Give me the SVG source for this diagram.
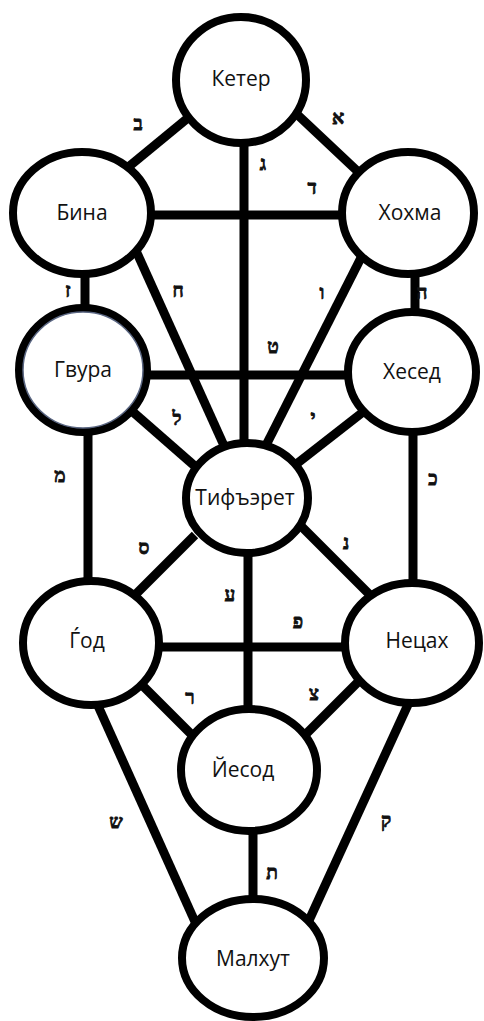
<svg xmlns="http://www.w3.org/2000/svg" width="484" height="1021" viewBox="0 0 484 1021">
<style>
.bg{fill:#ffffff}
.c line{stroke:#000;stroke-width:9;stroke-linecap:butt}
.n ellipse{fill:#fff;stroke:#000;stroke-width:8}
.n text{font-family:"Open Sans","Noto Sans",sans-serif;font-size:21px;fill:#111;text-anchor:middle}
.h{font-family:"Liberation Serif","DejaVu Sans",serif;font-size:19px;font-weight:bold;fill:#111;stroke:#111;stroke-width:0.8;text-anchor:middle}
</style>
<rect class="bg" x="0" y="0" width="484" height="1021"/>
<g id="connectors" class="c">
<line x1="200" y1="108" x2="115" y2="178"/>
<line x1="285" y1="103" x2="370" y2="183"/>
<line x1="244" y1="100" x2="244" y2="470"/>
<line x1="100" y1="215" x2="390" y2="215"/>
<line x1="128" y1="233" x2="235" y2="470"/>
<line x1="370" y1="240" x2="256" y2="465"/>
<line x1="85" y1="230" x2="85" y2="350"/>
<line x1="415" y1="230" x2="415" y2="350"/>
<line x1="100" y1="375" x2="390" y2="375"/>
<line x1="125" y1="405" x2="205" y2="475"/>
<line x1="372" y1="405" x2="290" y2="469"/>
<line x1="88" y1="400" x2="88" y2="600"/>
<line x1="413" y1="400" x2="413" y2="600"/>
<line x1="195" y1="535" x2="125" y2="605"/>
<line x1="290" y1="515" x2="380" y2="605"/>
<line x1="248" y1="520" x2="248" y2="740"/>
<line x1="110" y1="647" x2="390" y2="647"/>
<line x1="130" y1="673" x2="205" y2="748"/>
<line x1="372" y1="668" x2="295" y2="745"/>
<line x1="90" y1="688" x2="205" y2="944"/>
<line x1="417" y1="685" x2="300" y2="940"/>
<line x1="253" y1="800" x2="253" y2="930"/>
</g>
<g id="labels">
<text class="h" x="138" y="130">ב</text>
<text class="h" x="338" y="124">א</text>
<text class="h" x="263" y="170">ג</text>
<text class="h" x="312" y="194">ד</text>
<text class="h" x="178" y="297">ח</text>
<text class="h" x="322" y="299">ו</text>
<text class="h" x="68" y="297">ז</text>
<text class="h" x="422" y="299">ה</text>
<text class="h" x="273" y="353">ט</text>
<text class="h" x="177" y="425">ל</text>
<text class="h" x="313" y="424">י</text>
<text class="h" x="60" y="482">מ</text>
<text class="h" x="433" y="485">כ</text>
<text class="h" x="144" y="554">ס</text>
<text class="h" x="346" y="549">נ</text>
<text class="h" x="230" y="601">ע</text>
<text class="h" x="298" y="628">פ</text>
<text class="h" x="190" y="704">ר</text>
<text class="h" x="314" y="700">צ</text>
<text class="h" x="116" y="828">ש</text>
<text class="h" x="386" y="827">ק</text>
<text class="h" x="272" y="879">ת</text>
</g>
<g id="keter" class="n"><ellipse cx="241" cy="80" rx="65" ry="63"/><text x="241" y="86">Кетер</text></g>
<g id="bina" class="n"><ellipse cx="82" cy="213" rx="69" ry="61"/><text x="82" y="220">Бина</text></g>
<g id="hokhma" class="n"><ellipse cx="408" cy="213" rx="66" ry="61"/><text x="410" y="220">Хохма</text></g>
<g id="gevura" class="n"><ellipse cx="83" cy="370" rx="64" ry="62"/><ellipse cx="83" cy="370" rx="60" ry="58" style="fill:none;stroke:#5a6682;stroke-width:1.5"/><text x="83" y="377">Гвура</text></g>
<g id="hesed" class="n"><ellipse cx="412" cy="372" rx="64" ry="60"/><text x="412" y="379">Хесед</text></g>
<g id="tiferet" class="n"><ellipse cx="247" cy="498" rx="61" ry="55"/><text x="245" y="505">Тифъэрет</text></g>
<g id="hod" class="n"><ellipse cx="91" cy="643" rx="68" ry="62"/><text x="87" y="648">Ѓод</text></g>
<g id="netzah" class="n"><ellipse cx="412" cy="643" rx="67" ry="60"/><text x="417" y="648">Нецах</text></g>
<g id="yesod" class="n"><ellipse cx="249" cy="770" rx="68" ry="61"/><text x="243" y="777">Йесод</text></g>
<g id="malkhut" class="n"><ellipse cx="253" cy="958" rx="71" ry="59"/><text x="253" y="966">Малхут</text></g>
</svg>
